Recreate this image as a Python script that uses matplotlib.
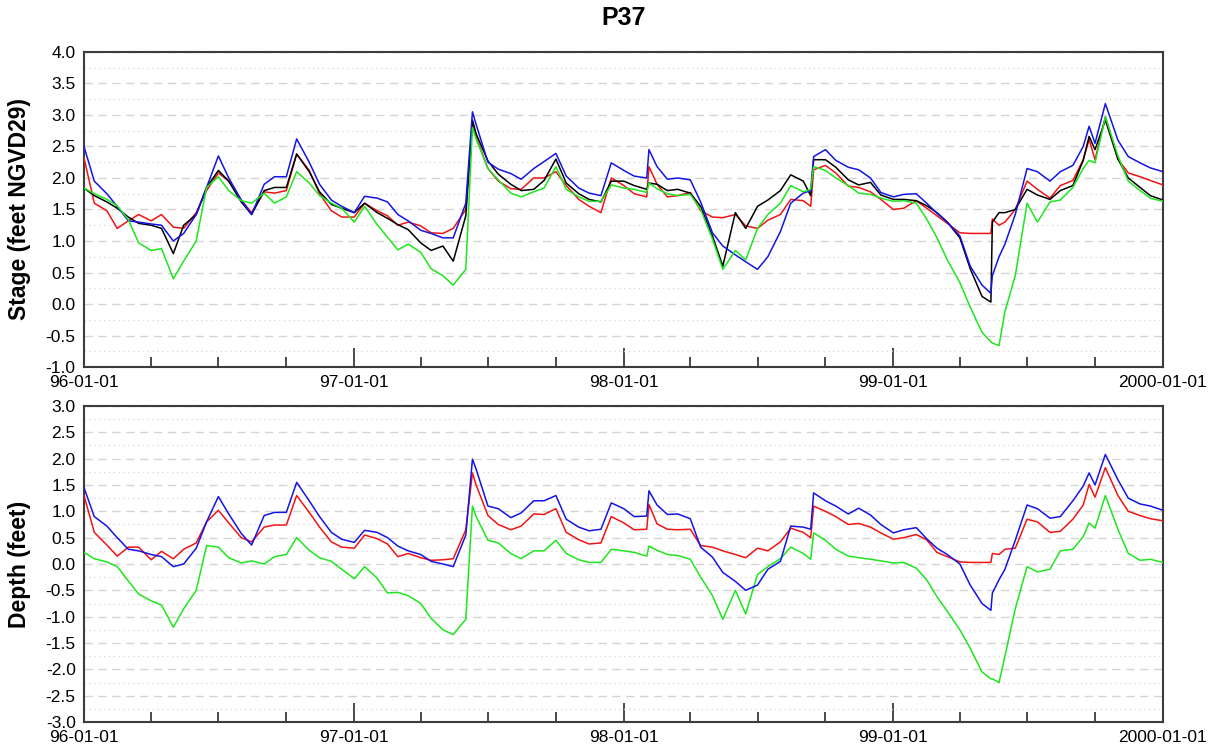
import matplotlib
matplotlib.use('Agg')
import matplotlib.pyplot as plt
import matplotlib.dates as mdates
from matplotlib.ticker import MultipleLocator, FuncFormatter
import pandas as pd

plt.rcParams['font.family'] = ['Liberation Sans', 'DejaVu Sans']
plt.rcParams['axes.unicode_minus'] = False

# ---- dates: semi-monthly samples plus a few event dates ----
grid_dates = pd.date_range('1996-01-01', '2000-01-01', freq='SMS')
extra_dates = ['1997-06-10', '1998-02-04', '1998-09-11', '1999-05-13', '1999-05-24', '1999-09-23']
dates = sorted(list(grid_dates) + [pd.Timestamp(d) for d in extra_dates])

# ---- Stage (feet NGVD29) ----
stage_blue = [2.50, 1.95, 1.75, 1.55, 1.32, 1.30, 1.27, 1.25, 1.00, 1.12, 1.42, 1.85,
              2.35, 2.00, 1.65, 1.42, 1.90, 2.02, 2.02, 2.62, 2.25, 1.90, 1.65, 1.55,
              1.45, 1.71, 1.68, 1.62, 1.42, 1.32, 1.17, 1.12, 1.05, 1.05, 1.60,
              3.05,
              2.85, 2.25, 2.14, 2.07, 1.98, 2.15, 2.26, 2.39, 2.03, 1.84, 1.76, 1.72, 2.24, 2.12, 2.03, 2.00,
              2.45,
              2.18, 1.98, 2.00, 1.97, 1.62, 1.13, 0.92, 0.78, 0.67, 0.55, 0.75, 1.15, 1.60, 1.76,
              1.80,
              2.34, 2.45, 2.28, 2.17, 2.13, 2.00, 1.77, 1.70, 1.74, 1.75, 1.60, 1.44, 1.30, 1.08, 0.60, 0.30,
              0.17, 0.45, 0.75,
              0.95, 1.42, 2.15, 2.10, 1.95, 2.10, 2.20, 2.50,
              2.82,
              2.55, 3.18, 2.60, 2.34, 2.24, 2.16, 2.10]
stage_black = [1.84, 1.72, 1.62, 1.52, 1.38, 1.28, 1.25, 1.20, 0.80, 1.25, 1.42, 1.85,
               2.12, 1.95, 1.62, 1.42, 1.80, 1.85, 1.85, 2.38, 2.10, 1.78, 1.58, 1.52,
               1.45, 1.60, 1.45, 1.36, 1.26, 1.18, 0.97, 0.85, 0.92, 0.68, 1.40,
               2.92,
               2.70, 2.27, 2.06, 1.90, 1.80, 1.82, 1.96, 2.30, 1.92, 1.75, 1.66, 1.62, 1.95, 1.95, 1.88, 1.82,
               1.92,
               1.90, 1.80, 1.82, 1.76, 1.55, 1.08, 0.60, 1.45, 1.20, 1.55, 1.65, 1.80, 2.05, 1.95,
               1.72,
               2.29, 2.29, 2.17, 1.97, 1.89, 1.93, 1.73, 1.66, 1.66, 1.64, 1.56, 1.45, 1.30, 1.05, 0.56, 0.12,
               0.03, 1.30, 1.45,
               1.45, 1.50, 1.82, 1.73, 1.66, 1.80, 1.88, 2.28,
               2.66,
               2.45, 2.92, 2.30, 2.00, 1.85, 1.72, 1.65]
stage_red = [2.32, 1.60, 1.48, 1.20, 1.32, 1.42, 1.32, 1.42, 1.22, 1.20, 1.45, 1.80,
             2.08, 1.95, 1.65, 1.45, 1.78, 1.76, 1.80, 2.38, 2.12, 1.75, 1.48, 1.38,
             1.38, 1.60, 1.48, 1.40, 1.25, 1.30, 1.24, 1.13, 1.12, 1.20, 1.50,
             2.87,
             2.65, 2.15, 1.95, 1.83, 1.82, 2.00, 2.00, 2.10, 1.88, 1.66, 1.55, 1.45, 2.00, 1.88, 1.75, 1.70,
             2.18,
             1.90, 1.70, 1.72, 1.77, 1.48, 1.38, 1.37, 1.42, 1.24, 1.20, 1.33, 1.42, 1.66, 1.64,
             1.55,
             2.13, 2.20, 2.08, 1.87, 1.85, 1.78, 1.66, 1.50, 1.52, 1.64, 1.52, 1.40, 1.28, 1.13, 1.12, 1.12,
             1.12, 1.35, 1.25,
             1.30, 1.50, 1.95, 1.82, 1.68, 1.88, 1.96, 2.29,
             2.61,
             2.29, 2.97, 2.30, 2.08, 2.02, 1.96, 1.89]
stage_green = [1.84, 1.75, 1.66, 1.56, 1.34, 0.97, 0.85, 0.88, 0.40, 0.68, 1.00, 1.85,
               2.02, 1.80, 1.64, 1.60, 1.76, 1.60, 1.70, 2.10, 1.92, 1.72, 1.60, 1.52,
               1.30, 1.55, 1.26, 1.06, 0.86, 0.95, 0.82, 0.56, 0.45, 0.30, 0.55,
               2.80,
               2.62, 2.15, 1.97, 1.76, 1.70, 1.78, 1.84, 2.18, 1.82, 1.70, 1.63, 1.63, 1.89, 1.84, 1.82, 1.77,
               1.92,
               1.83, 1.75, 1.72, 1.74, 1.50, 1.03, 0.55, 0.85, 0.70, 1.20, 1.42, 1.60, 1.88, 1.78,
               1.82,
               2.18, 2.12, 2.00, 1.88, 1.76, 1.74, 1.68, 1.63, 1.64, 1.60, 1.35, 1.05, 0.70, 0.34, -0.05, -0.45,
               -0.60, -0.62, -0.66,
               -0.12, 0.45, 1.60, 1.30, 1.62, 1.65, 1.85, 2.15,
               2.28,
               2.24, 2.97, 2.35, 1.95, 1.80, 1.68, 1.63]

# ---- Depth (feet) ----
depth_blue = [1.45, 0.90, 0.72, 0.50, 0.28, 0.25, 0.18, 0.14, -0.05, 0.00, 0.30, 0.80,
              1.28, 0.95, 0.58, 0.36, 0.92, 0.98, 0.98, 1.55, 1.20, 0.90, 0.60, 0.47,
              0.41, 0.64, 0.60, 0.50, 0.34, 0.25, 0.18, 0.05, 0.00, -0.05, 0.55,
              1.99,
              1.80, 1.10, 1.05, 0.88, 0.97, 1.20, 1.20, 1.30, 0.85, 0.70, 0.63, 0.66, 1.16, 1.05, 0.90, 0.91,
              1.39,
              1.12, 0.94, 0.95, 0.86, 0.32, 0.13, -0.16, -0.33, -0.50, -0.40, -0.10, 0.05, 0.72, 0.70,
              0.66,
              1.35, 1.20, 1.10, 0.95, 1.06, 0.93, 0.75, 0.59, 0.65, 0.69, 0.48, 0.30, 0.18, 0.00, -0.40, -0.75,
              -0.88, -0.55, -0.30,
              -0.10, 0.45, 1.12, 1.05, 0.87, 0.90, 1.20, 1.48,
              1.73,
              1.50, 2.08, 1.60, 1.25, 1.14, 1.10, 1.02]
depth_red = [1.30, 0.60, 0.36, 0.15, 0.32, 0.32, 0.08, 0.24, 0.10, 0.28, 0.40, 0.80,
             1.02, 0.78, 0.50, 0.42, 0.70, 0.74, 0.74, 1.30, 0.98, 0.70, 0.42, 0.32,
             0.30, 0.55, 0.48, 0.38, 0.14, 0.20, 0.12, 0.07, 0.08, 0.10, 0.65,
             1.73,
             1.50, 0.92, 0.75, 0.65, 0.72, 0.95, 0.94, 1.05, 0.60, 0.46, 0.38, 0.40, 0.90, 0.78, 0.65, 0.66,
             1.13,
             0.76, 0.66, 0.65, 0.66, 0.35, 0.32, 0.25, 0.18, 0.12, 0.30, 0.25, 0.42, 0.68, 0.60,
             0.50,
             1.10, 1.00, 0.90, 0.75, 0.77, 0.70, 0.59, 0.47, 0.50, 0.56, 0.46, 0.22, 0.14, 0.04, 0.03, 0.03,
             0.03, 0.20, 0.18,
             0.28, 0.30, 0.85, 0.80, 0.60, 0.62, 0.85, 1.12,
             1.51,
             1.27, 1.83, 1.30, 1.00, 0.92, 0.86, 0.82]
depth_green = [0.22, 0.10, 0.04, -0.05, -0.32, -0.57, -0.70, -0.78, -1.20, -0.85, -0.50, 0.35,
               0.32, 0.12, 0.02, 0.06, 0.00, 0.14, 0.18, 0.50, 0.26, 0.12, 0.05, -0.10,
               -0.28, -0.05, -0.27, -0.55, -0.54, -0.60, -0.75, -1.03, -1.25, -1.34, -1.05,
               1.10,
               0.90, 0.45, 0.40, 0.20, 0.10, 0.25, 0.25, 0.45, 0.20, 0.08, 0.03, 0.03, 0.28, 0.25, 0.22, 0.15,
               0.34,
               0.26, 0.18, 0.16, 0.09, -0.25, -0.60, -1.05, -0.50, -0.95, -0.20, -0.05, 0.10, 0.32, 0.20,
               0.09,
               0.59, 0.45, 0.28, 0.15, 0.12, 0.09, 0.06, 0.02, 0.03, -0.08, -0.30, -0.62, -0.90, -1.25, -1.60, -2.05,
               -2.18, -2.18, -2.25,
               -1.75, -0.85, -0.05, -0.15, -0.10, 0.25, 0.28, 0.52,
               0.78,
               0.68, 1.30, 0.66, 0.20, 0.07, 0.09, 0.03]

title = 'P37'
ylabel_top = 'Stage (feet NGVD29)'
ylabel_bottom = 'Depth (feet)'

BLUE = '#1414e6'
RED = '#f01414'
GREEN = '#1ee61e'
BLACK = '#000000'
SPINE = '#3c3c3c'

fig = plt.figure(figsize=(12.17, 7.51), dpi=100)
ax1 = fig.add_axes([0.069, 0.5113, 0.8866, 0.4195])
ax2 = fig.add_axes([0.069, 0.0386, 0.8866, 0.4208])

lw = 1.1
ax1.plot(dates, stage_red, color=RED, lw=lw, zorder=3)
ax1.plot(dates, stage_black, color=BLACK, lw=lw, zorder=4)
ax1.plot(dates, stage_blue, color=BLUE, lw=lw, zorder=5)
ax1.plot(dates, stage_green, color=GREEN, lw=lw, zorder=6)

ax2.plot(dates, depth_green, color=GREEN, lw=lw, zorder=3)
ax2.plot(dates, depth_red, color=RED, lw=lw, zorder=4)
ax2.plot(dates, depth_blue, color=BLUE, lw=lw, zorder=5)

def xfmt(x, pos):
    d = mdates.num2date(x)
    return d.strftime('%Y-%m-%d') if d.year >= 2000 else d.strftime('%y-%m-%d')

for ax, lo, hi, lab in [(ax1, -1.0, 4.0, ylabel_top), (ax2, -3.0, 3.0, ylabel_bottom)]:
    ax.set_xlim(pd.Timestamp('1996-01-01'), pd.Timestamp('2000-01-01'))
    ax.set_ylim(lo, hi)
    ax.yaxis.set_major_locator(MultipleLocator(0.5))
    ax.yaxis.set_minor_locator(MultipleLocator(0.25))
    ax.yaxis.set_major_formatter(FuncFormatter(lambda v, p: '%.1f' % v))
    ax.xaxis.set_major_locator(mdates.YearLocator())
    ax.xaxis.set_minor_locator(mdates.MonthLocator(bymonth=[4, 7, 10]))
    ax.xaxis.set_major_formatter(FuncFormatter(xfmt))
    ax.yaxis.grid(True, which='major', color='#d4d4d4', ls=(0, (6, 4)), lw=1.0, zorder=0)
    ax.yaxis.grid(True, which='minor', color='#dcdcdc', ls=(0, (1, 2.5)), lw=1.0, zorder=0)
    ax.xaxis.grid(False)
    ax.tick_params(axis='x', which='major', direction='in', length=14, width=1.3,
                   color=SPINE, labelsize=12.5, pad=6, top=False)
    ax.tick_params(axis='x', which='minor', direction='in', length=7, width=1.3,
                   color=SPINE, top=False)
    ax.tick_params(axis='y', which='both', length=0, labelsize=12.5, pad=6)
    for s in ax.spines.values():
        s.set_color(SPINE)
        s.set_linewidth(1.5)
    ax.set_ylabel(lab, fontsize=16.5, fontweight='bold')
    ax.yaxis.set_label_coords(-0.049, 0.5)

fig.suptitle(title, fontsize=18, fontweight='bold', x=0.5123, y=0.992)

fig.savefig('out.png', dpi=100)
